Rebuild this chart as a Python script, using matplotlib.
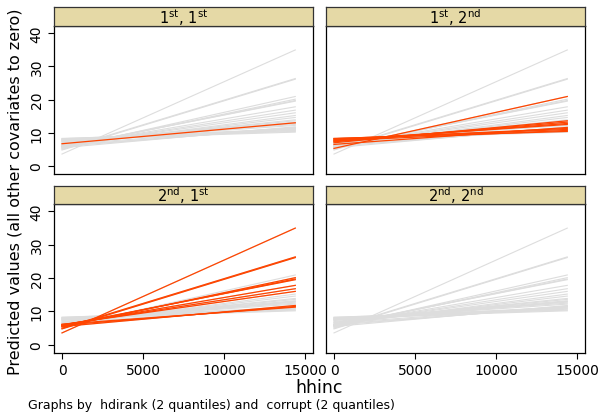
import numpy as np
import matplotlib
matplotlib.use('Agg')
import matplotlib.pyplot as plt

# predicted value at hhinc = 0 and at hhinc = x_end, one pair per line
x_start = 0
x_end = 14400

# group codes: 1 = (1st,1st), 2 = (1st,2nd), 3 = (2nd,1st), 4 = (2nd,2nd), 0 = other
starts = [6.7,
          5.3, 7.0, 7.3, 7.5, 7.8, 8.0, 8.2, 7.6, 8.3, 6.5,
          3.6, 4.8, 5.0, 5.4, 5.6, 5.8, 5.9, 6.0, 6.1, 5.5, 5.9, 6.2,
          6.0, 6.3, 6.8, 7.5, 7.8, 8.0]
ends = [13.0,
        20.9, 13.6, 13.2, 12.8, 12.5, 11.3, 11.0, 10.7, 10.4, 11.6,
        34.9, 26.1, 26.3, 20.1, 19.7, 19.5, 17.8, 16.8, 16.0, 11.8, 11.5, 11.3,
        15.2, 14.6, 13.9, 12.2, 10.8, 10.2]
groups = [1,
          2, 2, 2, 2, 2, 2, 2, 2, 2, 2,
          3, 3, 3, 3, 3, 3, 3, 3, 3, 3, 3, 3,
          0, 0, 0, 0, 0, 0]

panel_titles = [r'1$^{\rm st}$, 1$^{\rm st}$', r'1$^{\rm st}$, 2$^{\rm nd}$',
                r'2$^{\rm nd}$, 1$^{\rm st}$', r'2$^{\rm nd}$, 2$^{\rm nd}$']
xticks = [0, 5000, 10000, 15000]
yticks = [0, 10, 20, 30, 40]

W, H = 598, 414
fig = plt.figure(figsize=(W / 100, H / 100), dpi=100)
fig.patch.set_facecolor('white')

gray = '#dddddd'
red = '#ff4500'
strip_col = '#e5d9a6'

# pixel boxes: (left, top, right, bottom)
col_x = [(54, 313), (326, 585)]
row_y = [(8, 27, 175), (187, 205, 354)]

for k in range(4):
    r, c = divmod(k, 2)
    x0, x1 = col_x[c]
    st, pt, pb = row_y[r]
    ax = fig.add_axes([x0 / W, 1 - pb / H, (x1 - x0) / W, (pb - pt) / H])
    sax = fig.add_axes([x0 / W, 1 - pt / H, (x1 - x0) / W, (pt - st) / H])

    for s, e, g in zip(starts, ends, groups):
        ax.plot([x_start, x_end], [s, e], color=gray, lw=0.8, zorder=1)
    for s, e, g in zip(starts, ends, groups):
        if g == k + 1:
            ax.plot([x_start, x_end], [s, e], color=red, lw=0.9, zorder=2)

    ax.set_xlim(-494, 15494)
    ax.set_ylim(-2.4, 42.1)
    ax.set_xticks(xticks)
    ax.set_yticks(yticks)
    for sp in ax.spines.values():
        sp.set_color('black')
        sp.set_linewidth(0.9)
    ax.tick_params(length=4, width=0.8, labelsize=10, color='black')
    if c == 0:
        ax.set_yticklabels([str(v) for v in yticks], rotation=90, va='center')
    else:
        ax.tick_params(axis='y', left=False, labelleft=False)
    if r == 1:
        ax.set_xticklabels([str(v) for v in xticks])
    else:
        ax.tick_params(axis='x', bottom=False, labelbottom=False)

    sax.set_facecolor(strip_col)
    sax.set_xticks([])
    sax.set_yticks([])
    for sp in sax.spines.values():
        sp.set_color('#333333')
        sp.set_linewidth(0.9)
    sax.text(0.5, 0.5, panel_titles[k], ha='center', va='center',
             fontsize=10.5, transform=sax.transAxes)

fig.text(15 / W, 1 - 192 / H, 'Predicted values (all other covariates to zero)',
         rotation=90, ha='center', va='center', fontsize=11.5)
fig.text(319 / W, 1 - 388 / H, 'hhinc', ha='center', va='center', fontsize=12.5)
fig.text(28 / W, 1 - 406 / H, 'Graphs by  hdirank (2 quantiles) and  corrupt (2 quantiles)',
         ha='left', va='center', fontsize=9)

fig.savefig('out.png', dpi=100)
